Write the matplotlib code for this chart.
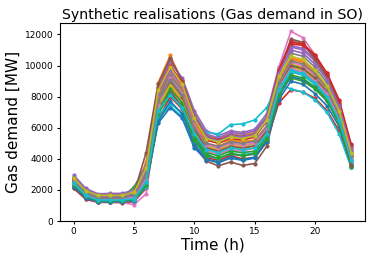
import numpy as np
import matplotlib
matplotlib.use('Agg')
import matplotlib.pyplot as plt

hours = list(range(24))

# Synthetic gas demand realisations [MW], one list per realisation
r01 = [2400, 1650, 1350, 1350, 1330, 1400, 2500, 7000, 8300, 7400, 5300, 4300, 4000, 4300, 4200, 4300, 5400, 8200, 9600, 9400, 8800, 7900, 6400, 3900]
r02 = [2800, 2000, 1650, 1650, 1650, 1900, 3800, 8900, 10650, 9000, 6800, 5500, 5300, 5600, 5500, 5700, 6600, 9300, 10500, 10300, 9600, 8600, 6900, 4300]
r03 = [2600, 1800, 1500, 1500, 1500, 2200, 3500, 7800, 9300, 8200, 6100, 4900, 4700, 5000, 4800, 5000, 6000, 8600, 9900, 9700, 9000, 8100, 6500, 3600]
r04 = [2100, 1400, 1200, 1200, 1180, 1250, 2100, 6500, 8000, 7200, 5100, 4100, 3900, 4200, 4000, 4100, 5100, 7600, 8450, 8300, 7900, 7100, 5800, 3700]
r05 = [2950, 2100, 1750, 1780, 1780, 2000, 3600, 8600, 10200, 9200, 7100, 5800, 5500, 5800, 5700, 5900, 6900, 9900, 11300, 11100, 10400, 9300, 7500, 4700]
r06 = [2150, 1450, 1250, 1250, 1200, 1500, 3000, 7200, 8400, 7300, 4800, 3850, 3550, 3800, 3580, 3700, 4800, 8000, 10000, 9900, 9400, 8600, 7000, 4100]
r07 = [2300, 1550, 1200, 1250, 1200, 1050, 1750, 6900, 8700, 7700, 5600, 4500, 4300, 4600, 4500, 4700, 5800, 9900, 12200, 11800, 10700, 9400, 7300, 4300]
r08 = [2700, 1900, 1600, 1600, 1600, 1800, 3200, 8300, 9900, 8800, 6700, 5500, 5200, 5550, 5450, 5600, 6500, 9700, 11600, 11400, 10500, 9400, 7500, 4600]
r09 = [2500, 1700, 1400, 1400, 1400, 1550, 2800, 7600, 9000, 8000, 6000, 4900, 4700, 5200, 5100, 5200, 6000, 9000, 10100, 9900, 9300, 8400, 6800, 4200]
r10 = [2350, 1600, 1300, 1300, 1300, 1300, 2200, 6600, 7400, 6700, 5900, 5700, 5600, 6200, 6250, 6500, 7300, 8800, 8500, 8300, 7800, 7000, 5600, 3450]
r11 = [2200, 1500, 1250, 1250, 1250, 1300, 2300, 6300, 7300, 6600, 4700, 3950, 3750, 4050, 3900, 4050, 5100, 7800, 9000, 8800, 8200, 7400, 6100, 3800]
r12 = [2550, 1750, 1450, 1450, 1450, 1600, 2700, 7300, 8600, 7700, 5800, 4700, 4500, 4800, 4700, 4800, 5700, 8400, 9700, 9500, 8900, 8000, 6500, 4400]
r13 = [2450, 1700, 1400, 1400, 1380, 1500, 2600, 7100, 8500, 7600, 5500, 4400, 4200, 4500, 4400, 4500, 5500, 8300, 9200, 9000, 8500, 7700, 6300, 3550]
r14 = [2650, 1850, 1550, 1550, 1550, 1700, 3100, 8000, 9500, 8500, 6400, 5200, 5000, 5300, 5200, 5400, 6400, 9600, 11400, 11300, 10600, 9500, 7700, 4800]
r15 = [2850, 2050, 1700, 1700, 1700, 1850, 3400, 8500, 10400, 9100, 6900, 5600, 5350, 5700, 5600, 5800, 6700, 9600, 11200, 11000, 10300, 9200, 7400, 4900]
r16 = [2750, 1950, 1600, 1650, 1650, 1800, 4400, 8800, 10500, 9000, 6700, 5400, 5200, 5500, 5400, 5600, 6600, 9500, 11700, 11500, 10400, 9300, 7600, 4500]
r17 = [2500, 1700, 1400, 1400, 1400, 1450, 2400, 7200, 9600, 8400, 6200, 5000, 4800, 5100, 5000, 5100, 6100, 8900, 10200, 10000, 9400, 8500, 6900, 4000]
r18 = [2600, 1800, 1500, 1500, 1500, 1700, 3000, 7900, 9400, 8400, 6300, 5300, 5100, 5400, 5300, 5500, 6400, 9200, 10800, 10600, 9900, 8900, 7200, 4400]
r19 = [2400, 1650, 1350, 1350, 1350, 1500, 2600, 7400, 8800, 7900, 5900, 4800, 4600, 4900, 4800, 5000, 5900, 8800, 9900, 9700, 9100, 8200, 6600, 4100]
r20 = [2300, 1550, 1300, 1300, 1300, 1350, 2400, 6800, 7600, 6900, 5000, 4200, 4000, 4350, 4250, 4400, 5400, 8300, 9600, 9400, 8800, 7900, 6400, 3700]
r21 = [2250, 1500, 1250, 1250, 1250, 1400, 2500, 6400, 7700, 6900, 4900, 4000, 3800, 4100, 3950, 4100, 5200, 8000, 9300, 9100, 8600, 7800, 6300, 3500]
r22 = [2600, 1800, 1500, 1500, 1500, 1700, 3100, 8100, 9700, 8600, 6400, 5000, 4800, 5200, 5100, 5200, 6100, 9000, 10400, 10200, 9500, 8600, 7000, 4200]
r23 = [2350, 1600, 1300, 1300, 1300, 1400, 2300, 6900, 8100, 7300, 5200, 4200, 4050, 4350, 4200, 4350, 5300, 8100, 9400, 9200, 8600, 7800, 6300, 3500]
r24 = [2700, 1900, 1600, 1600, 1600, 1750, 3300, 8400, 10000, 8900, 6600, 5400, 5200, 5500, 5400, 5600, 6600, 9700, 11500, 11400, 10700, 9500, 7800, 4950]
r25 = [2650, 1850, 1550, 1550, 1550, 1750, 3200, 8200, 9700, 8700, 6500, 5400, 5150, 5500, 5400, 5600, 6600, 9500, 11000, 10800, 10100, 9100, 7400, 4600]
r26 = [2500, 1750, 1450, 1450, 1450, 1600, 2800, 7600, 9000, 8000, 5900, 4700, 4500, 4800, 4700, 4850, 5800, 8700, 10000, 9800, 9200, 8300, 6700, 3600]
r27 = [2450, 1700, 1400, 1400, 1400, 1550, 2700, 7500, 9200, 8200, 6100, 4900, 4700, 5000, 4900, 5000, 6000, 8600, 9800, 9600, 9000, 8200, 6600, 4300]
r28 = [2550, 1800, 1500, 1500, 1500, 1650, 2900, 7700, 9100, 8100, 6000, 5000, 4800, 5100, 5000, 5150, 6100, 8900, 10300, 10100, 9500, 8500, 6900, 4200]
r29 = [2750, 1950, 1650, 1650, 1650, 1850, 3400, 8400, 9900, 8800, 6600, 5300, 5100, 5400, 5300, 5500, 6500, 9300, 10600, 10400, 9700, 8700, 7100, 4400]
r30 = [2450, 1650, 1350, 1350, 1350, 1450, 2500, 7100, 8100, 7300, 5600, 4600, 4400, 4700, 4600, 4700, 5600, 8500, 9700, 9500, 8900, 8000, 6500, 3900]

realisations = [r01, r02, r03, r04, r05, r06, r07, r08, r09, r10,
                r11, r12, r13, r14, r15, r16, r17, r18, r19, r20,
                r21, r22, r23, r24, r25, r26, r27, r28, r29, r30]

fig = plt.figure(figsize=(3.74, 2.61), dpi=100)
ax = fig.add_axes([0.160, 0.153, 0.816, 0.760])

for r in realisations:
    ax.plot(hours, r, marker='o', markersize=2, linewidth=1.2)

ax.set_ylim(bottom=0)
ax.set_title('Synthetic realisations (Gas demand in SO)', fontsize=10.2, pad=3)
ax.set_xlabel('Time (h)', fontsize=11, labelpad=1)
ax.set_ylabel('Gas demand [MW]', fontsize=11, labelpad=3)
ax.tick_params(labelsize=6.5, length=2.5, pad=2)

fig.savefig('out.png', dpi=100)
